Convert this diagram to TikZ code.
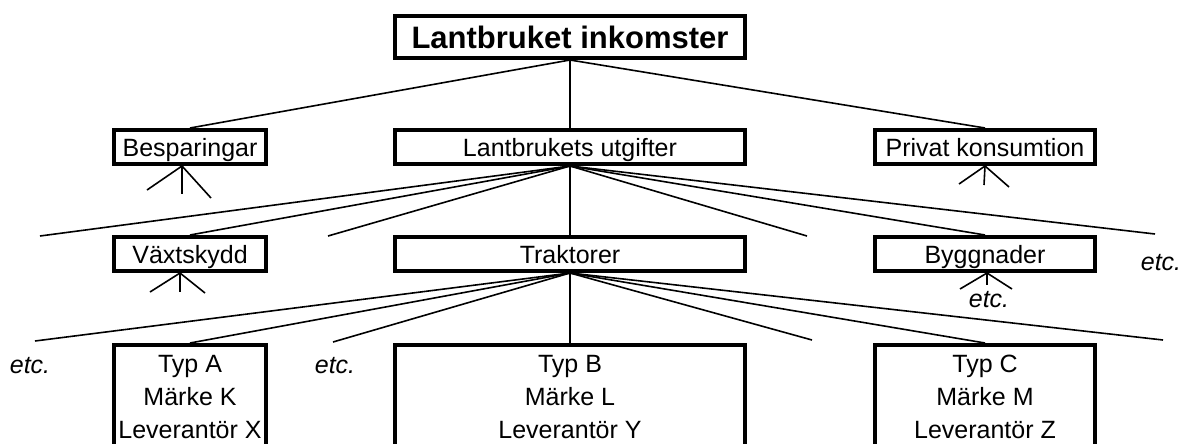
\documentclass[tikz,border=0pt]{standalone}
\usepackage{fontspec}
\setmainfont{Liberation Sans}
\begin{document}
\begin{tikzpicture}[x=0.75pt,y=-0.75pt,
  box/.style={draw, line width=3pt, inner sep=0pt, text height=13.5pt, text depth=0pt,
    font=\fontsize{18.75}{24.75}\selectfont, minimum height=25.5pt},
  bigbox/.style={draw, line width=3pt, inner sep=0pt, anchor=north, text height=20.25pt,
    text depth=120pt, font=\fontsize{18.75}{24.75}\selectfont},
  ln/.style={line width=1.2pt},
  etcl/.style={font=\fontsize{18.75}{22}\selectfont\itshape, inner sep=0pt, anchor=base}]
\useasboundingbox (0,0) rectangle (1185,443);
\clip (0,0) rectangle (1185,443);
\fill[white] (0,0) rectangle (1185,443);

% level 0
\node[box, minimum width=262.5pt, minimum height=31.5pt, text height=16.5pt,
  font=\bfseries\fontsize{23.25}{26}\selectfont] (top) at (570,37) {Lantbruket inkomster};
% level 1
\node[box, minimum width=114pt] (besp) at (190,147) {Besparingar};
\node[box, minimum width=262.5pt] (utg) at (570,147) {Lantbrukets utgifter};
\node[box, minimum width=165pt] (priv) at (985,147) {Privat konsumtion};
% level 2
\node[box, minimum width=114pt] (vaxt) at (190,254) {Växtskydd};
\node[box, minimum width=262.5pt] (trak) at (570,254) {Traktorer};
\node[box, minimum width=165pt] (bygg) at (985,254) {Byggnader};
% level 3
\node[bigbox, minimum width=114pt] (typa) at (190,343)
  {\begin{tabular}[t]{@{}c@{}}Typ A\\Märke K\\Leverantör X\end{tabular}};
\node[bigbox, minimum width=262.5pt] (typb) at (570,343)
  {\begin{tabular}[t]{@{}c@{}}Typ B\\Märke L\\Leverantör Y\end{tabular}};
\node[bigbox, minimum width=165pt] (typc) at (985,343)
  {\begin{tabular}[t]{@{}c@{}}Typ C\\Märke M\\Leverantör Z\end{tabular}};

% free ends
\coordinate (u1) at (40,236);
\coordinate (u3) at (328,236);
\coordinate (u5) at (807,236);
\coordinate (u7) at (1155,234);
\coordinate (t1) at (35,341);
\coordinate (t3) at (333,342);
\coordinate (t5) at (812,340);
\coordinate (t7) at (1163,340);
\coordinate (bf1) at (147,190);
\coordinate (bf2) at (182,194);
\coordinate (bf3) at (211,198);
\coordinate (vf1) at (150,292);
\coordinate (vf2) at (180,292);
\coordinate (vf3) at (205,293);
\coordinate (pf1) at (959,184);
\coordinate (pf2) at (984,185);
\coordinate (pf3) at (1009,187);
\coordinate (gf1) at (960,289);
\coordinate (gf2) at (987,285);
\coordinate (gf3) at (1012,289);

% connectors
\draw[ln] (top.south) -- (besp.north);
\draw[ln] (top.south) -- (utg.north);
\draw[ln] (top.south) -- (priv.north);

\foreach \t in {u1,vaxt.north,u3,trak.north,u5,bygg.north,u7}
  \draw[ln] (utg.south) -- (\t);
\foreach \t in {t1,typa.north,t3,typb.north,t5,typc.north,t7}
  \draw[ln] (trak.south) -- (\t);

\foreach \t in {bf1,bf2,bf3} \draw[ln] ([xshift=-6pt]besp.south) -- (\t);
\foreach \t in {vf1,vf2,vf3} \draw[ln] ([xshift=-7.5pt]vaxt.south) -- (\t);
\foreach \t in {pf1,pf2,pf3} \draw[ln] (priv.south) -- (\t);
\foreach \t in {gf1,gf2,gf3} \draw[ln] ([xshift=1.5pt]bygg.south) -- (\t);

% etc labels
\node[etcl] (e1) at (1161,270) {etc.};
\node[etcl] (e2) at (989,307) {etc.};
\node[etcl] (e3) at (30,373) {etc.};
\node[etcl] (e4) at (335,373) {etc.};
\end{tikzpicture}
\end{document}
